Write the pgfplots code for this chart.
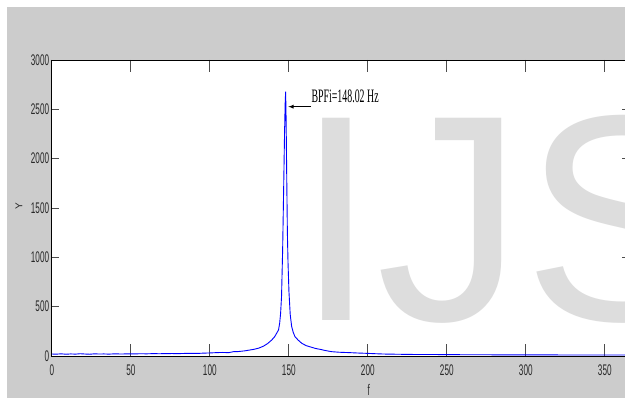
\documentclass[border=0pt]{standalone}
\usepackage{pgfplots}
\pgfplotsset{compat=1.18}
\usepackage{fontspec}
\setmainfont{Liberation Sans}
\newfontfamily\timesf{Liberation Serif}
\definecolor{figgray}{RGB}{204,204,204}
\definecolor{wmgray}{RGB}{221,221,221}
\definecolor{mblue}{RGB}{0,0,255}
\definecolor{lbl}{RGB}{40,40,40}
\pgfplotstableread{
x y
0 20
3 19
6 22
9 18
12 21
15 19
18 23
21 20
24 18
27 22
30 20
33 21
36 19
40 22
44 20
48 22
52 21
56 23
60 22
64 24
68 23
72 24
76 25
80 24
84 26
88 27
92 26
96 29
100 31
104 34
108 36
112 34
115 44
118 45
122 52
125 60
128 68
131 80
134 100
136.5 125
139.2 162
141 195
142.3 230
143.5 265
144.2 330
144.8 430
145.4 600
146.1 1074
146.7 1650
147.3 2250
147.7 2560
148.0 2680
148.3 2400
148.7 1800
149.1 1250
149.5 950
150.1 650
150.9 420
151.8 300
152.8 240
153.9 196
156.0 160
158.2 129
161.0 105
164.5 88
167 76
169.7 68
173 56
177 44
182 38
188.7 34
194 30
199.3 27
205 23
210 20
218 18
226 16
234 15
242 15
250 14
260 13
270 13
280 12
290 12
300 11
315 11
330 10
345 10
365 10
}\spec
\begin{document}
\begin{tikzpicture}[x=1pt,y=1pt]
\useasboundingbox (0,0) rectangle (625,405);
\clip (0,0) rectangle (625,405);
\fill[white] (0,0) rectangle (625,405);
\fill[figgray] (7,7) rectangle (625,398);
\begin{axis}[
  at={(51.8pt,49pt)}, anchor=south west,
  scale only axis,
  width=576.7pt, height=296pt,
  xmin=0, xmax=365, ymin=0, ymax=3000,
  axis background/.style={fill=white},
  axis line style={black, line width=0.8pt},
  xtick={0,50,...,350}, ytick={0,500,...,3000},
  tick align=inside,
  xtick style={/pgfplots/major tick length=12pt, black!70, line width=0.7pt},
  ytick style={/pgfplots/major tick length=7pt, black!70, line width=0.7pt},
  minor tick num=0,
  /pgf/number format/assume math mode=true,
  /pgf/number format/1000 sep={},
  xticklabel={\scalebox{0.53}[1]{\fontsize{15.4}{15.4}\selectfont\pgfmathprintnumber{\tick}}},
  yticklabel={\scalebox{0.53}[1]{\fontsize{15.4}{15.4}\selectfont\pgfmathprintnumber{\tick}}},
  xticklabel style={inner sep=0pt, anchor=north, yshift=-8.5pt, text=lbl},
  yticklabel style={inner sep=0pt, anchor=east, xshift=-2.5pt, text=lbl},
  xlabel={\scalebox{0.53}[1]{\fontsize{15.4}{15.4}\selectfont f}},
  xlabel style={at={(axis description cs:0.5494,0)}, anchor=center, yshift=-34pt, inner sep=0pt, text=lbl},
  ylabel={\fontsize{10}{10}\selectfont Y},
  ylabel style={at={(axis description cs:-0.0569,0.506)}, anchor=center, inner sep=0pt, text=lbl},
]
\addplot[mblue, line width=0.9pt] table[x=x,y=y] {\spec};
\draw[-latex, black, line width=0.8pt] (axis cs:164.1,2527) -- (axis cs:149.7,2527);
\node[anchor=base west, inner sep=0pt] at (axis cs:164.3,2565)
  {\scalebox{0.52}[1]{\fontsize{19}{19}\selectfont\timesf BPFi=148.02 Hz}};
\end{axis}
\node[anchor=base west, inner sep=0pt, text=wmgray, font=\fontsize{294}{294}\selectfont] at (295,84.3) {\raisebox{0pt}[\height][0pt]{IJS}};
\end{tikzpicture}
\end{document}
